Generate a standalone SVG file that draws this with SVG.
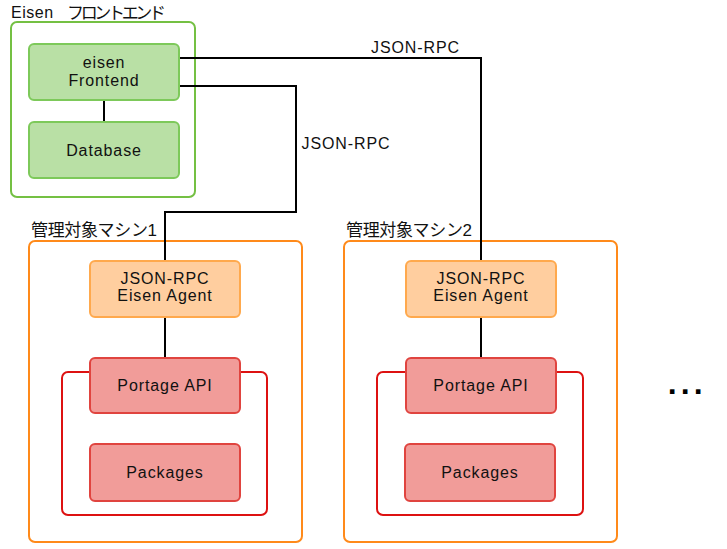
<svg xmlns="http://www.w3.org/2000/svg" width="727" height="549" viewBox="0 0 727 549">
<style>
text{font-family:"Liberation Sans",Arial,"Noto Sans CJK JP",sans-serif;font-size:16px;fill:#111;}
.c{text-anchor:middle;letter-spacing:0.9px;}
.jp{font-family:"Liberation Sans","Noto Sans CJK JP",sans-serif;}
.gc{fill:#fff;stroke:#74C043;stroke-width:2;}
.g{fill:#B9E0A5;stroke:#7DC95A;stroke-width:2;}
.oc{fill:#fff;stroke:#FF8A1A;stroke-width:2;}
.o{fill:#FFCE9F;stroke:#FFA94D;stroke-width:2;}
.rc{fill:#fff;stroke:#DD1111;stroke-width:2;}
.r{fill:#F19C99;stroke:#E0443F;stroke-width:2;}
.e{fill:none;stroke:#000;stroke-width:2;}
</style>
<g id="frontend-group">
<rect class="gc" x="11" y="22" width="184" height="175" rx="6"/>
<text class="jp" x="11" y="18"><tspan style="letter-spacing:0.5px">Eisen</tspan><tspan x="67" y="18.5" textLength="99" lengthAdjust="spacing" style="font-size:17px">フロントエンド</tspan></text>
</g>
<g id="machine1">
<rect class="oc" x="29" y="241" width="273" height="301" rx="6"/>
<text class="jp" x="31" y="236" textLength="126" lengthAdjust="spacing" style="font-size:17px">管理対象マシン1</text>
</g>
<g id="machine2">
<rect class="oc" x="344" y="241" width="273" height="301" rx="6"/>
<text class="jp" x="346" y="236" textLength="126" lengthAdjust="spacing" style="font-size:17px">管理対象マシン2</text>
</g>
<g id="portage-group1"><rect class="rc" x="62" y="372" width="205" height="143" rx="6"/></g>
<g id="portage-group2"><rect class="rc" x="377" y="372" width="206" height="143" rx="6"/></g>
<g id="connectors">
<path class="e" d="M179,58 H481 V261"/>
<path class="e" d="M179,86 H296 V212 H165 V261"/>
<path class="e" d="M104,100 V122"/>
<path class="e" d="M165,317 V358"/>
<path class="e" d="M481,317 V358"/>
<text class="c" x="415.5" y="52.5">JSON-RPC</text>
<text class="c" x="346" y="148.5">JSON-RPC</text>
</g>
<g id="eisen-frontend">
<rect class="g" x="29" y="44" width="150" height="56" rx="5"/>
<text class="c" x="104" y="67.5">eisen</text>
<text class="c" x="104" y="85.5">Frontend</text>
</g>
<g id="database">
<rect class="g" x="29" y="122" width="150" height="56" rx="5"/>
<text class="c" x="104" y="156">Database</text>
</g>
<g id="agent1">
<rect class="o" x="90" y="261" width="150" height="56" rx="5"/>
<text class="c" x="165" y="283.5">JSON-RPC</text>
<text class="c" x="165" y="300.5">Eisen Agent</text>
</g>
<g id="portage1">
<rect class="r" x="90" y="358" width="150" height="55" rx="5"/>
<text class="c" x="165" y="391">Portage API</text>
</g>
<g id="packages1">
<rect class="r" x="90" y="444" width="150" height="57" rx="5"/>
<text class="c" x="165" y="477.5">Packages</text>
</g>
<g id="agent2">
<rect class="o" x="406" y="261" width="150" height="56" rx="5"/>
<text class="c" x="481" y="283.5">JSON-RPC</text>
<text class="c" x="481" y="300.5">Eisen Agent</text>
</g>
<g id="portage2">
<rect class="r" x="406" y="358" width="150" height="55" rx="5"/>
<text class="c" x="481" y="391">Portage API</text>
</g>
<g id="packages2">
<rect class="r" x="405" y="444" width="150" height="57" rx="5"/>
<text class="c" x="480" y="477.5">Packages</text>
</g>
<g id="ellipsis">
<text x="667.8" y="393.5" style="font-size:32px;font-weight:bold;letter-spacing:4.1px;fill:#000">...</text>
</g>
</svg>
